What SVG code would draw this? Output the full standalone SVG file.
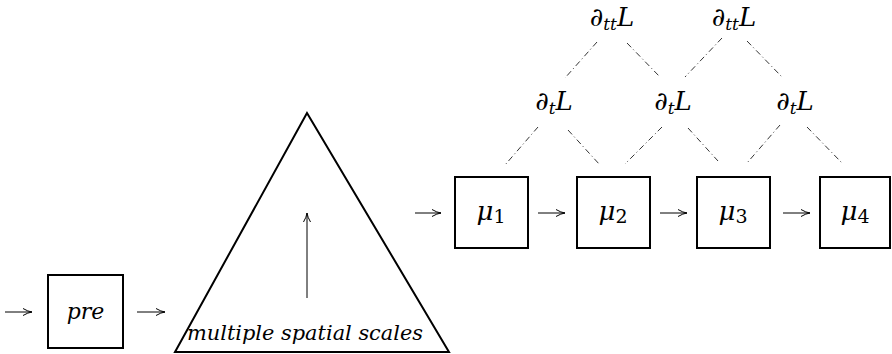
<svg xmlns="http://www.w3.org/2000/svg" width="892" height="354" viewBox="0 0 892 354">
<style>
.box{fill:#fff;stroke:#000;stroke-width:2}
.arr{stroke:#000;stroke-width:1;fill:none;marker-end:url(#ah)}
.dd{stroke:#000;stroke-width:0.8;fill:none;stroke-dasharray:6 3 1 3}
</style>
<defs>
<marker id="ah" viewBox="0 0 10 10" refX="10" refY="5" markerWidth="10" markerHeight="10" markerUnits="userSpaceOnUse" orient="auto">
<path d="M1,1.5 Q6,4.5 10,5 Q6,5.5 1,8.5" fill="none" stroke="#000" stroke-width="1"/>
</marker>
</defs>
<rect width="892" height="354" fill="#fff"/>
<g id="connectors">
<line class="arr" x1="5" y1="312" x2="32" y2="312"/>
<line class="arr" x1="137" y1="312" x2="165" y2="312"/>
<line class="arr" x1="307" y1="298" x2="307" y2="213"/>
<line class="arr" x1="415" y1="213" x2="441" y2="213"/>
<line class="arr" x1="538" y1="213" x2="565" y2="213"/>
<line class="arr" x1="660" y1="213" x2="687" y2="213"/>
<line class="arr" x1="783" y1="213" x2="810" y2="213"/>
<line class="dd" x1="597" y1="42" x2="565" y2="78"/>
<line class="dd" x1="627" y1="43" x2="660" y2="77"/>
<line class="dd" x1="722" y1="38" x2="685" y2="77"/>
<line class="dd" x1="747" y1="41" x2="782" y2="77"/>
<line class="dd" x1="538" y1="127" x2="505" y2="165"/>
<line class="dd" x1="568" y1="130" x2="600" y2="165"/>
<line class="dd" x1="662" y1="127" x2="625" y2="164"/>
<line class="dd" x1="688" y1="128" x2="718" y2="161"/>
<line class="dd" x1="780" y1="125" x2="747" y2="163"/>
<line class="dd" x1="807" y1="127" x2="842" y2="163"/>
</g>
<g font-family="'DejaVu Serif', 'Liberation Serif', serif" font-style="italic" fill="#000">
<g id="pre">
<rect class="box" x="48" y="275" width="75" height="73"/>
<text x="85.5" y="319" font-size="22" text-anchor="middle">pre</text>
</g>
<g id="scales">
<polygon points="307,113 175,352 449,352" fill="none" stroke="#000" stroke-width="2" stroke-linejoin="miter"/>
<text x="305" y="340" font-size="21" text-anchor="middle" textLength="236" lengthAdjust="spacingAndGlyphs">multiple spatial scales</text>
</g>
<g id="mu1">
<rect class="box" x="455" y="177" width="73" height="71"/>
<text x="491" y="220" font-size="26" text-anchor="middle">μ<tspan font-style="normal" font-size="19" dy="3">1</tspan></text>
</g>
<g id="mu2">
<rect class="box" x="577" y="177" width="73" height="71"/>
<text x="613" y="220" font-size="26" text-anchor="middle">μ<tspan font-style="normal" font-size="19" dy="3">2</tspan></text>
</g>
<g id="mu3">
<rect class="box" x="697" y="177" width="73" height="71"/>
<text x="733" y="220" font-size="26" text-anchor="middle">μ<tspan font-style="normal" font-size="19" dy="3">3</tspan></text>
</g>
<g id="mu4">
<rect class="box" x="820" y="177" width="70" height="71"/>
<text x="855" y="220" font-size="26" text-anchor="middle">μ<tspan font-style="normal" font-size="19" dy="3">4</tspan></text>
</g>
<g id="dtt1">
<text x="612" y="26" font-size="26" text-anchor="middle">∂<tspan font-size="17" dy="4">tt</tspan><tspan dy="-4">L</tspan></text>
</g>
<g id="dtt2">
<text x="734" y="26" font-size="26" text-anchor="middle">∂<tspan font-size="17" dy="4">tt</tspan><tspan dy="-4">L</tspan></text>
</g>
<g id="dt1">
<text x="554" y="110" font-size="26" text-anchor="middle">∂<tspan font-size="17" dy="4">t</tspan><tspan dy="-4">L</tspan></text>
</g>
<g id="dt2">
<text x="673" y="110" font-size="26" text-anchor="middle">∂<tspan font-size="17" dy="4">t</tspan><tspan dy="-4">L</tspan></text>
</g>
<g id="dt3">
<text x="795" y="110" font-size="26" text-anchor="middle">∂<tspan font-size="17" dy="4">t</tspan><tspan dy="-4">L</tspan></text>
</g>
</g>
</svg>
